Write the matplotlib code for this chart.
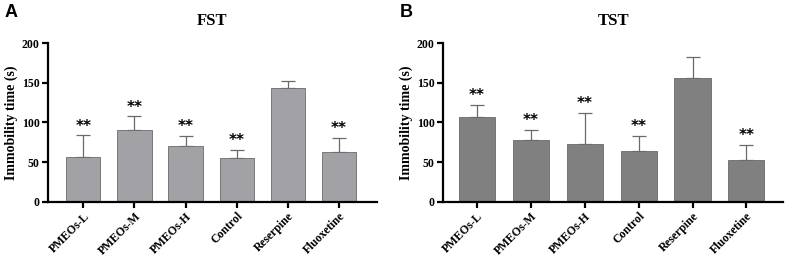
import matplotlib
matplotlib.use('Agg')
from matplotlib import pyplot as plt

# data
groups = ['PMEOs-L', 'PMEOs-M', 'PMEOs-H', 'Control', 'Reserpine', 'Fluoxetine']
fst_mean = [57, 90, 70, 55, 144, 63]
fst_sd = [27, 18, 13, 11, 8, 18]
tst_mean = [107, 78, 73, 64, 156, 53]
tst_sd = [15, 13, 39, 19, 27, 19]
fst_sig = ['**', '**', '**', '**', '', '**']
tst_sig = ['**', '**', '**', '**', '', '**']

plt.rcParams['font.family'] = ['Liberation Serif', 'DejaVu Serif']
fig = plt.figure(figsize=(7.87, 2.64), dpi=100)

panels = [
    ('A', 'FST', fst_mean, fst_sd, fst_sig, '#a2a2a6', [0.061, 0.235, 0.418, 0.602], (-0.69, 5.74)),
    ('B', 'TST', tst_mean, tst_sd, tst_sig, '#808080', [0.563, 0.235, 0.432, 0.602], (-0.63, 5.68)),
]

for letter, title, mean, sd, sig, color, rect, xlim in panels:
    ax = fig.add_axes(rect)
    x = range(len(groups))
    ax.bar(x, mean, width=0.67, color=color, edgecolor='#6a6a6a', linewidth=0.6, zorder=2)
    ax.errorbar(x, mean, yerr=[[0] * len(sd), sd], fmt='none', ecolor='#6a6a6a',
                elinewidth=0.9, capsize=5, capthick=0.9, zorder=1)
    for i in x:
        if sig[i]:
            ax.text(i, mean[i] + sd[i] + 2, sig[i], ha='center', va='bottom',
                    fontsize=11, fontweight='bold', family='DejaVu Sans')
    ax.set_xlim(*xlim)
    ax.set_ylim(0, 200)
    ax.set_yticks([0, 50, 100, 150, 200])
    ax.set_xticks(list(x))
    ax.set_xticklabels(groups, rotation=45, ha='right', rotation_mode='anchor',
                       fontsize=8.5, fontweight='bold')
    for lab in ax.get_yticklabels():
        lab.set_fontweight('bold')
        lab.set_fontsize(8.5)
    ax.set_ylabel('Immobility time (s)', fontsize=10, fontweight='bold', labelpad=3)
    ax.spines['top'].set_visible(False)
    ax.spines['right'].set_visible(False)
    ax.spines['left'].set_linewidth(1.6)
    ax.spines['bottom'].set_linewidth(1.6)
    ax.tick_params(width=1.6, length=4, pad=2)
    ax.set_title(title, fontsize=12, fontweight='bold', pad=13)
    fig.text(rect[0] - 0.055, 0.92, letter, fontsize=13, fontweight='bold',
             family='Liberation Sans', ha='left', va='bottom')

fig.savefig('out.png', dpi=100)
